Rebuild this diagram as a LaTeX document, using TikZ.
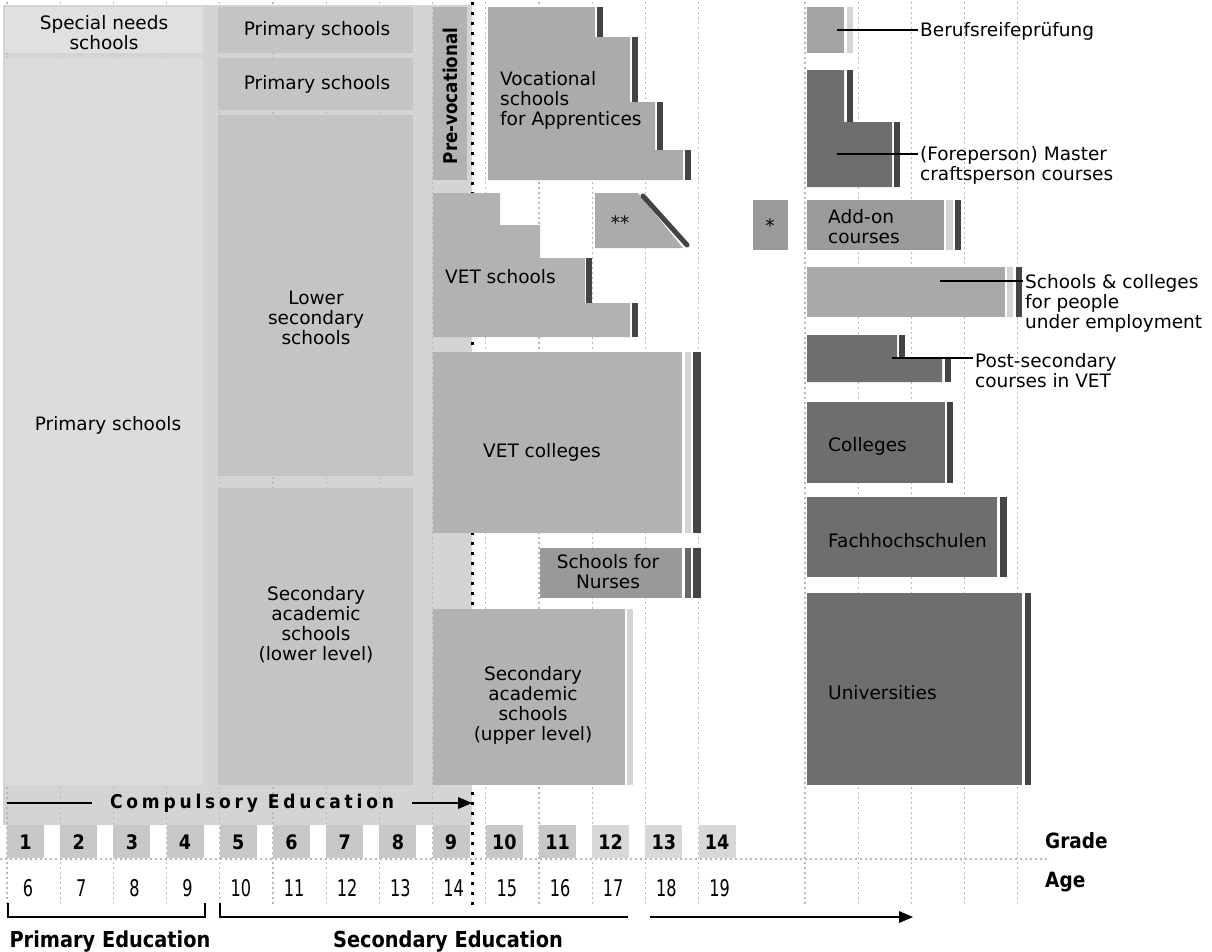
\documentclass[tikz,border=0pt]{standalone}
\usepackage{fontspec}
\setmainfont{DejaVu Sans}
\newfontfamily\heavyfont{DejaVu Sans}[FakeStretch=0.88]
\newfontfamily\spacedfont{DejaVu Sans}[FakeStretch=0.9,LetterSpace=20]
\newfontfamily\narrowfont{DejaVu Sans}[FakeStretch=0.7]
\definecolor{compbg}{HTML}{D4D4D4}
\definecolor{primbg}{HTML}{DCDCDC}
\definecolor{specbg}{HTML}{E0E0E0}
\definecolor{lowsec}{HTML}{C4C4C4}
\definecolor{upsec}{HTML}{B2B2B2}
\definecolor{voc}{HTML}{ABABAB}
\definecolor{nurse}{HTML}{999999}
\definecolor{tert}{HTML}{6E6E6E}
\definecolor{brfgray}{HTML}{A3A3A3}
\definecolor{addon}{HTML}{9A9A9A}
\definecolor{empl}{HTML}{A9A9A9}
\definecolor{endbar}{HTML}{444444}
\definecolor{midbar}{HTML}{666666}
\definecolor{lightbar}{HTML}{D4D4D4}
\definecolor{gridgray}{HTML}{B8B8B8}
\definecolor{gradebox}{HTML}{C8C8C8}
\definecolor{gradelight}{HTML}{D8D8D8}

\begin{document}
\begin{tikzpicture}[x=1pt,y=1pt]
            \tikzstyle{every node}+=[inner sep=0pt]
            \tikzstyle{lbl}=[font=\fontsize{18.5}{20}\selectfont, align=center]
            \tikzstyle{lblleft}=[font=\fontsize{18.5}{20}\selectfont, align=left, anchor=west]
            \tikzstyle{numbig}=[font=\heavyfont\bfseries\fontsize{20}{22}\selectfont]
            \tikzstyle{agenum}=[font=\narrowfont\fontsize{23}{24}\selectfont]
            \tikzstyle{gridline}=[gridgray, line width=1.2pt, dash pattern=on 2pt off 3pt]
            \tikzstyle{leader}=[black, line width=2pt]
            \useasboundingbox (0,0) rectangle (1212,-951);
            \fill [white] (0,0) rectangle (1212,-951);
            \fill [compbg] (3,-5) rectangle (472,-825);
            \foreach \k in {0,...,13,15,16,17,18,19}
              \draw [gridline] ({7+53.2*\k},-2) -- ({7+53.2*\k},-905);
            \draw [gridline] (0,-859) -- (1050,-859);
            \draw [black, line width=3pt, dash pattern=on 3pt off 7pt] (472,-2) -- (472,-905);
            \fill [specbg] (5,-7) rectangle (203,-53);
            \fill [primbg] (5,-58) rectangle (203,-785);
            \fill [lowsec] (218,-7) rectangle (413,-53);
            \fill [lowsec] (218,-58) rectangle (413,-110);
            \fill [lowsec] (218,-115) rectangle (413,-476);
            \fill [lowsec] (218,-488) rectangle (413,-785);
            \fill [upsec] (433,-7) rectangle (467,-180);
            \fill [voc] (488,-7) -- (595,-7) -- (595,-37) -- (630,-37) -- (630,-102) -- (655,-102) -- (655,-150) -- (683,-150) -- (683,-180) -- (488,-180) -- cycle;
            \fill [endbar] (597,-7) rectangle (603,-37);
            \fill [endbar] (632,-37) rectangle (638,-102);
            \fill [endbar] (657,-102) rectangle (663,-150);
            \fill [endbar] (685,-150) rectangle (691,-180);
            \fill [upsec] (433,-193) -- (500,-193) -- (500,-225) -- (540,-225) -- (540,-258) -- (585,-258) -- (585,-303) -- (630,-303) -- (630,-337) -- (433,-337) -- cycle;
            \fill [endbar] (586,-258) rectangle (592,-303);
            \fill [endbar] (632,-303) rectangle (638,-337);
            \fill [voc] (595,-193) -- (638,-193) -- (683,-248) -- (595,-248) -- cycle;
            \draw [endbar, line width=5pt, line cap=round] (643,-196) -- (687,-245);
            \fill [upsec] (433,-352) rectangle (682,-533);
            \fill [lightbar] (685,-352) rectangle (691,-533);
            \fill [endbar] (693,-352) rectangle (701,-533);
            \fill [nurse] (540,-548) rectangle (682,-598);
            \fill [midbar] (685,-548) rectangle (691,-598);
            \fill [endbar] (693,-548) rectangle (701,-598);
            \fill [upsec] (433,-609) rectangle (625,-785);
            \fill [lightbar] (627,-609) rectangle (633,-785);
            \fill [brfgray] (807,-7) rectangle (844,-53);
            \fill [lightbar] (847,-7) rectangle (853,-53);
            \fill [tert] (807,-70) -- (844,-70) -- (844,-122) -- (892,-122) -- (892,-187) -- (807,-187) -- cycle;
            \fill [endbar] (847,-70) rectangle (853,-122);
            \fill [endbar] (894,-122) rectangle (900,-187);
            \fill [addon] (753,-200) rectangle (788,-250);
            \fill [addon] (807,-200) rectangle (944,-250);
            \fill [lightbar] (946,-200) rectangle (953,-250);
            \fill [endbar] (955,-200) rectangle (961,-250);
            \fill [empl] (807,-267) rectangle (1005,-317);
            \fill [lightbar] (1007,-267) rectangle (1013,-317);
            \fill [endbar] (1016,-267) rectangle (1022,-317);
            \fill [tert] (807,-335) -- (897,-335) -- (897,-358) -- (942,-358) -- (942,-382) -- (807,-382) -- cycle;
            \fill [endbar] (899,-335) rectangle (905,-358);
            \fill [endbar] (945,-358) rectangle (951,-382);
            \fill [tert] (807,-402) rectangle (945,-483);
            \fill [endbar] (947,-402) rectangle (953,-483);
            \fill [tert] (807,-497) rectangle (997,-577);
            \fill [endbar] (1000,-497) rectangle (1007,-577);
            \fill [tert] (807,-593) rectangle (1022,-785);
            \fill [endbar] (1025,-593) rectangle (1031,-785);
            \node [lbl] (special) at (104,-33) {Special needs\\schools};
            \node [lbl] (primA) at (108,-425) {Primary schools};
            \node [lbl] (primB) at (317,-30) {Primary schools};
            \node [lbl] (primC) at (317,-84) {Primary schools};
            \node [lbl] (lowsec) at (316,-318) {Lower\\secondary\\schools};
            \node [lbl] (acadlow) at (316,-625) {Secondary\\academic\\schools\\(lower level)};
            \node [font=\heavyfont\bfseries\fontsize{19}{20}\selectfont, rotate=90] (prevoc) at (450,-96) {Pre-vocational};
            \node [lblleft] (vocapp) at (500,-100) {Vocational\\schools\\for Apprentices};
            \node [lblleft] (vetsch) at (445,-277) {VET schools};
            \node [lbl] (twostar) at (620,-223) {**};
            \node [lblleft] (vetcol) at (483,-452) {VET colleges};
            \node [lbl] (nurses) at (608,-572) {Schools for\\Nurses};
            \node [lbl] (acadup) at (533,-705) {Secondary\\academic\\schools\\(upper level)};
            \node [lbl] (onestar) at (770,-226) {*};
            \node [lblleft] (addon) at (828,-227) {Add-on\\courses};
            \node [lblleft] (colleges) at (828,-446) {Colleges};
            \node [lblleft] (fhs) at (828,-541) {Fachhochschulen};
            \node [lblleft] (unis) at (828,-693) {Universities};
            \node [lblleft] (brf) at (920,-31) {Berufsreifeprüfung};
            \node [lblleft] (master) at (920,-165) {(Foreperson) Master\\craftsperson courses};
            \node [lblleft] (empl) at (1025,-303) {Schools \& colleges\\for people\\under employment};
            \node [lblleft] (postsec) at (975,-371) {Post-secondary\\courses in VET};
            \coordinate (brfin) at (837,-30);
            \coordinate (masterin) at (837,-154);
            \coordinate (emplin) at (940,-281);
            \coordinate (postin) at (892,-358);
            \draw [leader] (brfin) -- ([xshift=-2pt]brfin -| brf.west);
            \draw [leader] (masterin) -- ([xshift=-2pt]masterin -| master.west);
            \draw [leader] (emplin) -- ([xshift=-2pt]emplin -| empl.west);
            \draw [leader] (postin) -- ([xshift=-2pt]postin -| postsec.west);
            \foreach \g in {1,...,11} {
              \fill [gradebox] ({7+53.2*(\g-1)},-825) rectangle ++(37,-33);
              \node [numbig] (g\g) at ({7+53.2*(\g-1)+18.5},-842) {\g};
            }
            \foreach \g in {12,13,14} {
              \fill [gradelight] ({7+53.2*(\g-1)},-825) rectangle ++(37,-33);
              \node [numbig] (g\g) at ({7+53.2*(\g-1)+18.5},-842) {\g};
            }
            \foreach \a [count=\i from 0] in {6,...,19}
              \node [agenum] (a\a) at ({7+53.2*\i+21},-888) {\a};
            \node [numbig, anchor=west, font=\heavyfont\bfseries\fontsize{21}{22}\selectfont] (gradelbl) at (1045,-841) {Grade};
            \node [numbig, anchor=west, font=\heavyfont\bfseries\fontsize{21}{22}\selectfont] (agelbl) at (1045,-882) {Age};
            \node [font=\spacedfont\bfseries\fontsize{19}{20}\selectfont, inner xsep=18pt] (comp) at (252,-803) {Compulsory Education};
            \coordinate (compleft) at (7,-803);
            \coordinate (compright) at (472,-803);
            \draw [black, line width=2pt] (compleft) -- (comp.west);
            \draw [black, line width=2pt] (comp.east) -- ([xshift=-10pt]compright);
            \fill [black] (compright) -- (458,-797) -- (458,-809) -- cycle;
            \node [font=\heavyfont\bfseries\fontsize{22}{24}\selectfont] (primedu) at (110,-941) {Primary Education};
            \node [font=\heavyfont\bfseries\fontsize{22}{24}\selectfont] (secedu) at (448,-941) {Secondary Education};
            \draw [black, line width=2pt] (8,-903) -- (8,-917) -- (205,-917) -- (205,-903);
            \draw [black, line width=2pt] (220,-903) -- (220,-917) -- (628,-917);
            \coordinate (tertstart) at (650,-917);
            \coordinate (tertend) at (913,-917);
            \draw [black, line width=2pt] (tertstart) -- ([xshift=-10pt]tertend);
            \fill [black] (tertend) -- (899,-911) -- (899,-923) -- cycle;
            \end{tikzpicture}
\end{document}
